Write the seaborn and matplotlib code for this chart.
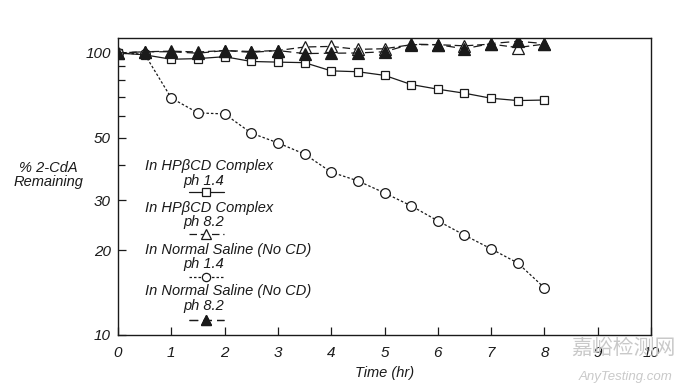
import matplotlib
matplotlib.use("Agg")
import matplotlib.pyplot as plt
import matplotlib.ticker as mticker
from matplotlib.lines import Line2D
import seaborn as sns
import pandas as pd

# ---- data ----
time_hr = [0, 0.5, 1, 1.5, 2, 2.5, 3, 3.5, 4, 4.5, 5, 5.5, 6, 6.5, 7, 7.5, 8]
hp_ph14 = [100, 98.5, 95, 95.5, 97, 93.3, 92.8, 92.4, 86.4, 85.8, 83.3, 77.3, 74.4, 72.0, 69.1, 67.8, 68.1]
hp_ph82 = [100, 101, 101.5, 100.8, 102, 101.2, 102, 105, 105.5, 103, 103.5, 107, 107, 106, 107.5, 104.5, 107.5]
ns_ph14 = [100, 99, 69.2, 61.3, 60.8, 52.0, 48.0, 43.8, 37.8, 35.2, 31.9, 28.7, 25.4, 22.6, 20.2, 18.0, 14.7]
ns_ph82 = [100, 101, 101, 99.8, 102, 100.5, 102, 99.5, 99.8, 100, 101, 107.5, 107, 103.5, 108, 110, 108]

labels_line1 = ["In HPβCD Complex", "In HPβCD Complex",
                "In Normal Saline (No CD)", "In Normal Saline (No CD)"]
labels_line2 = ["ph 1.4", "ph 8.2", "ph 1.4", "ph 8.2"]

x_ticks = [0, 1, 2, 3, 4, 5, 6, 7, 8, 9, 10]
y_major = [10, 20, 30, 50, 100]
y_minor = [40, 60, 70, 80, 90]

sns.set_theme(style="white")
plt.rcParams["font.family"] = ["Liberation Sans", "DejaVu Sans"]
plt.rcParams["font.style"] = "italic"

W, H = 676, 389
fig = plt.figure(figsize=(W / 100, H / 100), dpi=100)
ax = fig.add_axes([118 / W, 1 - 335 / H, (651 - 118) / W, (335 - 38) / H])

ink = "#1a1a1a"
styles = [
    dict(y=hp_ph14, marker="s", ls="-", mfc="white", ms=6.0),
    dict(y=hp_ph82, marker="^", ls=(0, (6, 3)), mfc="white", ms=8.0),
    dict(y=ns_ph14, marker="o", ls=(0, (2, 1.6)), mfc="white", ms=7.0),
    dict(y=ns_ph82, marker="^", ls=(0, (7, 4)), mfc=ink, ms=8.5),
]
draw_order = [2, 0, 1, 3]
for i in draw_order:
    st = styles[i]
    df = pd.DataFrame({"t": time_hr, "v": st["y"]})
    sns.lineplot(data=df, x="t", y="v", ax=ax, color=ink, linestyle=st["ls"],
                 linewidth=0.9, marker=st["marker"], markersize=st["ms"],
                 markerfacecolor=st["mfc"], markeredgecolor=ink,
                 markeredgewidth=0.9, legend=False, zorder=3 + i)

ax.set_yscale("log")
ax.set_xlim(0, 10)
ax.set_ylim(10, 113)
ax.yaxis.set_major_locator(mticker.FixedLocator(y_major))
ax.yaxis.set_major_formatter(mticker.FixedFormatter([str(v) for v in y_major]))
ax.yaxis.set_minor_locator(mticker.FixedLocator(y_minor))
ax.yaxis.set_minor_formatter(mticker.NullFormatter())
ax.set_xticks(x_ticks)
ax.set_xticklabels([str(v) for v in x_ticks])

ax.tick_params(axis="both", which="both", direction="in", colors=ink,
               labelsize=11, width=0.9)
ax.tick_params(axis="x", which="major", length=6, pad=8, bottom=True)
ax.tick_params(axis="y", which="major", length=6, pad=5, left=True)
ax.tick_params(axis="y", which="minor", length=5, left=True)
for lab in ax.get_xticklabels() + ax.get_yticklabels():
    lab.set_fontstyle("italic")

for s in ax.spines.values():
    s.set_color(ink)
    s.set_linewidth(1.0)
ax.set_xlabel("")
ax.set_ylabel("")

fs = 10.5
fig.text(385 / W, 1 - 373 / H, "Time (hr)", ha="center", va="center",
         fontsize=fs, style="italic", color=ink)
fig.text(48 / W, 1 - 175 / H, "% 2-CdA\nRemaining", ha="center", va="center",
         fontsize=fs, style="italic", color=ink, linespacing=1.05)

# legend: text lines + one key legend per series
line1_y = [166, 208, 250, 291]
line2_y = [181, 222, 264, 306]
key_y = [193, 235, 278, 321]
for i in range(4):
    st = styles[i]
    fig.text(145 / W, 1 - line1_y[i] / H, labels_line1[i], ha="left",
             va="center", fontsize=fs, style="italic", color=ink)
    fig.text(204 / W, 1 - line2_y[i] / H, labels_line2[i], ha="center",
             va="center", fontsize=fs, style="italic", color=ink)
    h = Line2D([], [], color=ink, linestyle=st["ls"], linewidth=0.9,
               marker=st["marker"], markersize=st["ms"] * 0.85,
               markerfacecolor=st["mfc"], markeredgecolor=ink,
               markeredgewidth=0.9)
    leg = ax.legend([h], [""], loc="center", frameon=False,
                    bbox_to_anchor=(206 / W, 1 - key_y[i] / H),
                    bbox_transform=fig.transFigure, handlelength=2.4,
                    handletextpad=0, borderpad=0, borderaxespad=0,
                    fontsize=fs)
    ax.add_artist(leg)

# watermark
fig.text(623 / W, 1 - 348 / H, "嘉峪检测网", ha="center", va="center",
         fontsize=15, color="#c9c9c9", family=["Noto Sans CJK SC", "DejaVu Sans"],
         style="normal", zorder=10)
fig.text(626 / W, 1 - 377 / H, "AnyTesting.com", ha="center", va="center",
         fontsize=9.5, color="#c9c9c9", style="italic", zorder=10)

fig.savefig("out.png", dpi=100, facecolor="white")
